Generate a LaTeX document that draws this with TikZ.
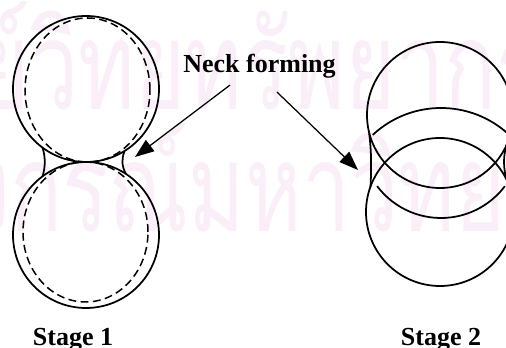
\documentclass[tikz,border=0pt]{standalone}
\usepackage{fontspec}
\setmainfont{Liberation Serif}
\newfontfamily\thaifont[Script=Thai]{Loma}
\usetikzlibrary{arrows.meta}
\definecolor{wmpink}{RGB}{250,239,248}

\begin{document}
\begin{tikzpicture}[
	outline/.style={line width=0.35mm},
	shrunk/.style={line width=0.3mm, dash pattern=on 4.5pt off 2.5pt},
	caption/.style={font=\bfseries\fontsize{14.8}{17}\selectfont, inner sep=0pt},
	pointer/.style={line width=0.25mm, -{Triangle[length=3.8mm,width=2.8mm]}},
	wmark/.style={text=wmpink, font=\thaifont\fontsize{70}{70}\selectfont, inner sep=0pt, xscale=0.7}
]
	\clip (0,0) rectangle (10.12,6.96);
	
	\node[wmark, anchor=base west] (wmtop) at (0.60,4.76) {\llap{ศูนย์}วิทยทรัพยากร};
	\node[wmark, anchor=base west] (wmbottom) at (0.20,2.32) {\llap{จุฬาลง}กรณ์มหาวิทยาลัย};
	
	\draw[outline] (1.72,5.18) circle (1.46);
	\draw[outline] (1.72,2.26) circle (1.46);
	\draw[shrunk] (1.75,5.16) ellipse (1.25 and 1.44);
	\draw[shrunk] (1.71,2.32) ellipse (1.25 and 1.40);
	
	\draw[outline] (0.85,4.01) .. controls (0.91,3.82) and (0.91,3.62) .. (0.85,3.43);
	\draw[outline] (2.49,3.94) .. controls (2.43,3.78) and (2.43,3.64) .. (2.52,3.48);
	
	\draw[outline] (8.80,4.66) circle (1.46);
	\draw[outline] (8.80,2.72) circle (1.48);
	\draw[outline] (8.82,2.80) ++(133:2.0) arc (133:47:2.0);
	\draw[outline] (8.82,4.20) ++(217:1.6) arc (217:323:1.6);
	
	\draw[outline] (7.38,4.32) .. controls (7.43,3.95) and (7.43,3.60) .. (7.41,3.22);
	\draw[outline] (10.17,4.16) .. controls (10.05,3.90) and (10.05,3.52) .. (10.18,3.26);
	
	\node[caption, anchor=base] (neck) at (5.19,5.50) {Neck forming};
	\node[caption, anchor=base] (stage1) at (1.46,0.04) {Stage 1};
	\node[caption, anchor=base] (stage2) at (8.82,0.04) {Stage 2};
	
	\coordinate (lneck) at (2.70,3.82);
	\coordinate (rneck) at (7.16,3.56);
	\draw[pointer] ([shift={(-0.59,-0.12)}]neck.south) -- (lneck);
	\draw[pointer] ([shift={(0.35,-0.26)}]neck.south) -- (rneck);
	
\end{tikzpicture}
\end{document}
